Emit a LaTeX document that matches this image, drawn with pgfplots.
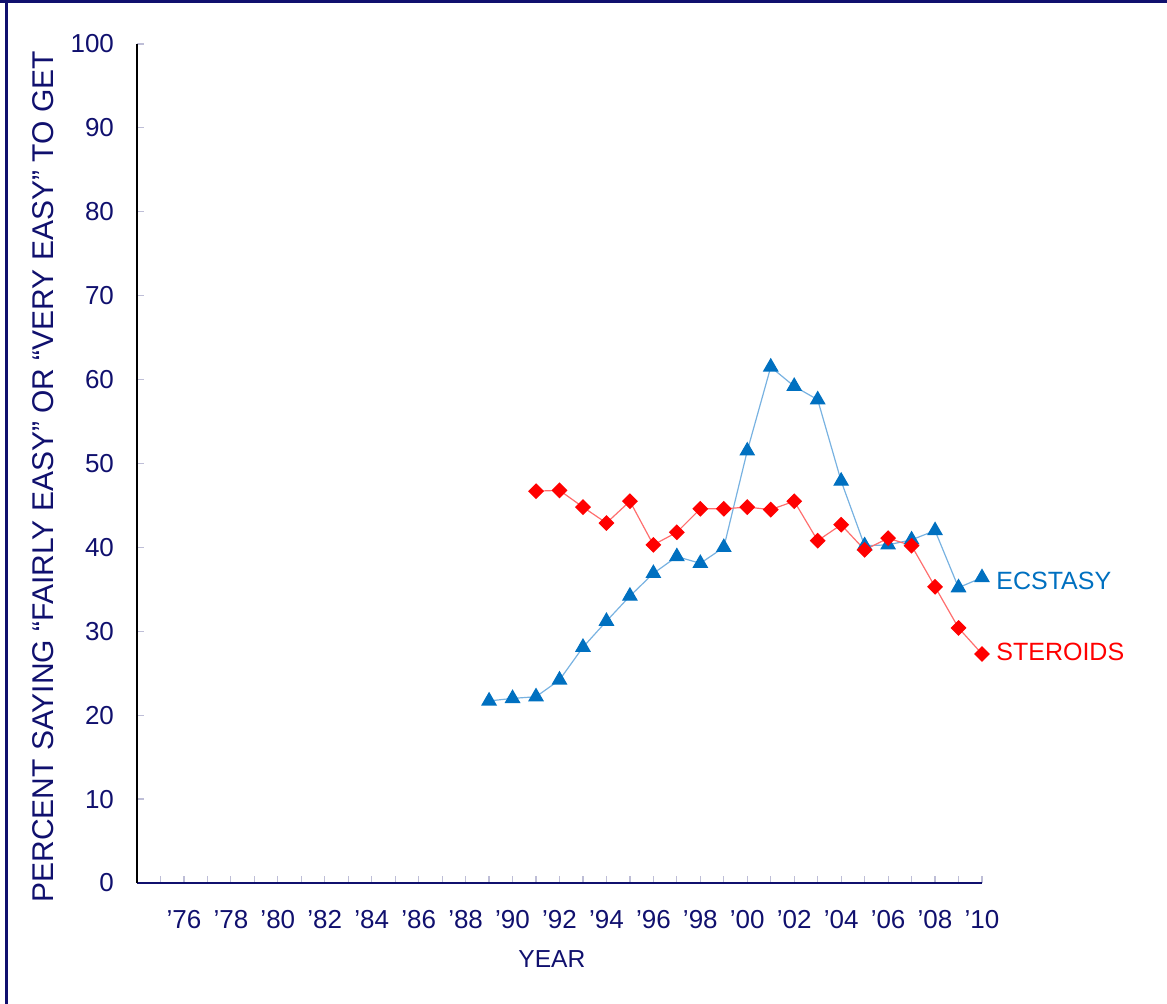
\documentclass[border=0pt]{standalone}
\usepackage{pgfplots}
\pgfplotsset{compat=1.18}
\usepackage{fontspec}
\setmainfont{Liberation Sans}
\definecolor{navy}{RGB}{16,16,110}
\definecolor{ecblue}{RGB}{0,112,192}
\definecolor{eclight}{RGB}{120,178,225}
\definecolor{stred}{RGB}{255,0,0}
\definecolor{stlight}{RGB}{255,110,110}
\definecolor{tickgray}{RGB}{190,190,215}
\begin{document}
\begin{tikzpicture}
\path[use as bounding box] (0,0) rectangle (583.5pt,502pt);
\draw[navy, line width=1.5pt] (0,501pt) -- (583.5pt,501pt);
\draw[navy, line width=1.5pt] (3pt,0) -- (3pt,502pt);
\begin{axis}[
  at={(68.5pt,60.5pt)}, anchor=south west,
  scale only axis, width=422.5pt, height=419.5pt,
  xmin=1974, xmax=2010, ymin=0, ymax=100,
  axis x line=bottom, axis y line=left,
  x axis line style={-, navy, line width=0.8pt},
  y axis line style={-, black, line width=0.6pt},
  tick align=inside,
  major tick length=3.5pt, minor tick length=3.5pt,
  every tick/.style={tickgray, line width=0.6pt},
  xtick={1976,1978,...,2010},
  minor xtick={1975,1977,...,2009},
  xticklabels={’76,’78,’80,’82,’84,’86,’88,’90,’92,’94,’96,’98,’00,’02,’04,’06,’08,’10},
  ytick={0,10,...,100},
  tick label style={font=\fontsize{13pt}{15pt}\selectfont, text=navy},
  /pgf/number format/assume math mode=true,
  xticklabel style={yshift=-10pt},
  yticklabel style={xshift=-8pt},
  xlabel={YEAR},
  xlabel style={at={(axis description cs:0.491,-0.0906)}, anchor=center, font=\fontsize{12.3pt}{14pt}\selectfont, text=navy},
  ylabel={PERCENT SAYING “FAIRLY EASY” OR “VERY EASY” TO GET},
  ylabel style={at={(axis description cs:-0.111,0.484)}, anchor=center, font=\fontsize{15pt}{17pt}\selectfont, text=navy},
  clip=false,
]
\addplot[eclight, line width=0.6pt, mark=triangle*, mark size=4pt, mark options={ecblue, fill=ecblue, draw=ecblue}] coordinates {
(1989,21.7)(1990,22.0)(1991,22.2)(1992,24.2)(1993,28.1)(1994,31.2)(1995,34.2)(1996,36.9)(1997,38.9)(1998,38.1)(1999,40.0)(2000,51.5)(2001,61.5)(2002,59.2)(2003,57.6)(2004,47.9)(2005,40.2)(2006,40.3)(2007,40.9)(2008,42.0)(2009,35.2)(2010,36.4)
};
\addplot[stlight, line width=0.6pt, mark=square*, mark size=2.5pt, mark options={rotate=45, stred, fill=stred, draw=stred}] coordinates {
(1991,46.7)(1992,46.8)(1993,44.8)(1994,42.9)(1995,45.5)(1996,40.3)(1997,41.8)(1998,44.6)(1999,44.6)(2000,44.8)(2001,44.5)(2002,45.5)(2003,40.8)(2004,42.7)(2005,39.7)(2006,41.1)(2007,40.2)(2008,35.3)(2009,30.4)(2010,27.3)
};
\node[anchor=west, text=ecblue, font=\fontsize{12.5pt}{14pt}\selectfont, inner sep=0pt] at (axis cs:2010,36.0) [xshift=7pt] {ECSTASY};
\node[anchor=west, text=stred, font=\fontsize{12.5pt}{14pt}\selectfont, inner sep=0pt] at (axis cs:2010,27.6) [xshift=7pt] {STEROIDS};
\end{axis}
\end{tikzpicture}
\end{document}
